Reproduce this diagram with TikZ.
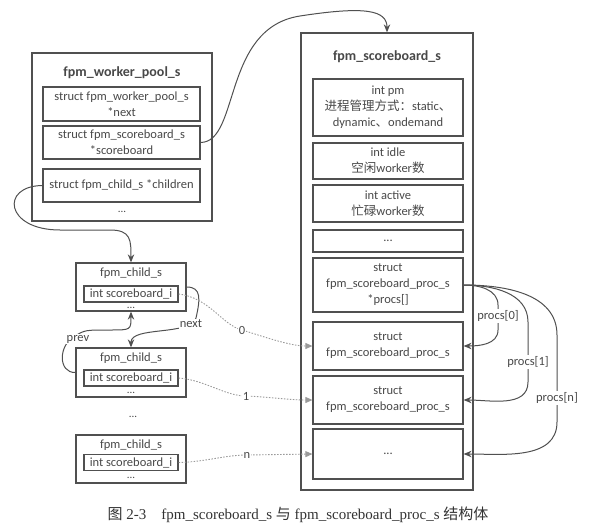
\documentclass[tikz,border=0pt]{standalone}
\usepackage{fontspec}
\setmainfont{Carlito}
\newfontfamily\cjk{Noto Sans CJK SC}
\newfontfamily\capfont{Liberation Serif}
\usetikzlibrary{arrows.meta, positioning, calc}
\definecolor{linegray}{HTML}{505050}
\definecolor{textgray}{HTML}{484848}
\definecolor{dotgray}{HTML}{9A9A9A}

\begin{document}
\begin{tikzpicture}[x=1pt, y=-1pt, >={Stealth[length=8pt,width=6.5pt]},
  font=\fontsize{12.5}{16}\selectfont, text=textgray,
  outer/.style={draw=linegray, line width=1.3pt, inner sep=0pt},
  field/.style={draw=linegray, line width=1.2pt, align=center, inner sep=1pt},
  title/.style={font=\fontsize{14}{16}\selectfont\bfseries},
  dots/.style={inner sep=0pt, font=\fontsize{11}{12}\selectfont},
  link/.style={draw=linegray, line width=1pt, ->},
  idx/.style={draw=dotgray, line width=0.9pt, dash pattern=on 1.5pt off 1.5pt,
    -{Triangle[length=7pt,width=6pt]}},
  tag/.style={fill=white, inner sep=1pt}]
  \useasboundingbox (0,0) rectangle (592,527);

  % worker pool
  \node (pool) [outer, minimum width=180, minimum height=168] at (122,137) {};
  \node (poolT) [title] at (122,73) {fpm\_worker\_pool\_s};
  \node (next) [field, minimum width=157, minimum height=34] at (121.5,104) {struct fpm\_worker\_pool\_s\\*next};
  \node (sb) [field, minimum width=157, minimum height=33] at (121.5,142.5) {struct fpm\_scoreboard\_s\\*scoreboard};
  \node (kids) [field, minimum width=157, minimum height=33] at (121.5,185.5) {struct fpm\_child\_s *children};
  \node (poolD) [dots] at (122,212) {...};

  % scoreboard
  \node (board) [outer, minimum width=172, minimum height=457] at (387,261.5) {};
  \node (boardT) [title] at (387,57) {fpm\_scoreboard\_s};
  \node (pm) [field, minimum width=150, minimum height=57] at (388,107.5)
    {int pm\\{\cjk 进程管理方式：}static{\cjk 、}\\dynamic{\cjk 、}ondemand};
  \node (idle) [field, minimum width=150, minimum height=36] at (388,161) {int idle\\{\cjk 空闲}worker{\cjk 数}};
  \node (active) [field, minimum width=150, minimum height=37] at (388,203.5) {int active\\{\cjk 忙碌}worker{\cjk 数}};
  \node (boardD) [field, minimum width=150, minimum height=22] at (388,241) {...};
  \node (procs) [field, minimum width=150, minimum height=54] at (388,285) {struct\\fpm\_scoreboard\_proc\_s\\*procs[]};
  \node (proc0) [field, minimum width=150, minimum height=48] at (388,346) {struct\\fpm\_scoreboard\_proc\_s};
  \node (proc1) [field, minimum width=150, minimum height=48] at (388,400) {struct\\fpm\_scoreboard\_proc\_s};
  \node (procN) [field, minimum width=150, minimum height=50] at (388,454) {...};

  % child list
  \node (c1) [outer, minimum width=110, minimum height=48] at (131,287) {};
  \node (c1T) at (131,273) {fpm\_child\_s};
  \node (c1i) [field, minimum width=94, minimum height=16, inner sep=0pt] at (131,294) {int scoreboard\_i};
  \node (c1D) [dots] at (131,307.5) {...};

  \node (c2) [outer, minimum width=110, minimum height=49] at (131,372.5) {};
  \node (c2T) at (131,358) {fpm\_child\_s};
  \node (c2i) [field, minimum width=94, minimum height=16, inner sep=0pt] at (131,378) {int scoreboard\_i};
  \node (c2D) [dots] at (131,392.5) {...};

  \node (gap) [dots] at (133,417) {...};

  \node (c3) [outer, minimum width=110, minimum height=48] at (131,459) {};
  \node (c3T) at (131,445) {fpm\_child\_s};
  \node (c3i) [field, minimum width=94, minimum height=16, inner sep=0pt] at (131,462.5) {int scoreboard\_i};
  \node (c3D) [dots] at (131,478) {...};

  % pointers
  \draw[link] (kids.west) .. controls (0,186) and (5,230) .. (60,230)
    -- (110,230) .. controls (131,230) and (131,240) .. (c1.north);
  \draw[link] (sb.east) .. controls (240,142) and (222,28) .. (300,16)
    .. controls (365,6) and (387,10) .. (board.north);
  \draw[link] (c1.east) .. controls (202,287) and (200,300) .. (196,318)
    .. controls (190,336) and (131,326) .. (c2.north);
  \node (nextL) [tag] at (191,324) {next};
  \draw[link] (c2.west) .. controls (58,373) and (58,345) .. (75,336)
    .. controls (85,330) .. (110,330) .. controls (131,330) .. (c1.south);
  \node (prevL) [tag] at (78,339) {prev};

  % index lines
  \draw[idx] (c1i.east) .. controls (210,298) and (222,325) .. (242,330)
    .. controls (265,337) and (290,346) .. (proc0.west);
  \node (i0) [tag] at (242,330) {0};
  \draw[idx] (c2i.east) .. controls (205,380) and (225,396) .. (246,396)
    .. controls (270,397) and (290,400) .. (proc1.west);
  \node (i1) [tag] at (246,396) {1};
  \draw[idx] (c3i.east) .. controls (205,462) and (225,455) .. (247,455)
    -- (procN.west);
  \node (iN) [tag] at (247,455) {n};

  % procs[] slots
  \draw[link] (procs.east) to[out=0,in=90] (498,305) -- (498,330)
    to[out=-90,in=0] (proc0.east);
  \node (p0) [tag] at (498,316) {procs[0]};
  \draw[link] (procs.east) to[out=0,in=90] (528,322) -- (528,382)
    to[out=-90,in=0] (proc1.east);
  \node (p1) [tag] at (528,362) {procs[1]};
  \draw[link] (procs.east) to[out=0,in=90] (557,335) -- (557,422)
    to[out=-90,in=0] (procN.east);
  \node (pN) [tag] at (557,398) {procs[n]};

  % caption
  \node (cap) [font=\capfont\fontsize{15}{17}\selectfont, text=black!80] at (298,515)
    {{\cjk 图} 2-3\quad fpm\_scoreboard\_s {\cjk 与} fpm\_scoreboard\_proc\_s {\cjk 结构体}};
\end{tikzpicture}
\end{document}
